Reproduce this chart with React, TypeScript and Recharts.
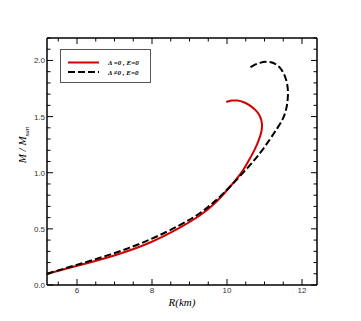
import React from "react";
import { LineChart, Line, XAxis, YAxis, Label } from "recharts";

// radius (km) and mass (M/Msun)
const rDelta0 = [5.2, 6, 7, 7.95, 8.8, 9.3, 9.7, 10.07, 10.4, 10.6, 10.75, 10.86, 10.92, 10.94, 10.92, 10.86, 10.76, 10.62, 10.45, 10.28, 10.12, 9.98];
const mDelta0 = [0.1, 0.17, 0.26, 0.37, 0.52, 0.62, 0.73, 0.87, 1.0, 1.12, 1.21, 1.3, 1.36, 1.42, 1.47, 1.52, 1.56, 1.6, 1.63, 1.645, 1.645, 1.63];

const rDeltaN = [5.2, 6, 7, 7.95, 8.8, 9.3, 9.7, 10.07, 10.6, 10.9, 11.13, 11.35, 11.5, 11.58, 11.62, 11.63, 11.61, 11.55, 11.46, 11.34, 11.2, 11.04, 10.88, 10.72, 10.58];
const mDeltaN = [0.1, 0.18, 0.28, 0.4, 0.54, 0.64, 0.75, 0.87, 1.06, 1.18, 1.29, 1.4, 1.48, 1.56, 1.64, 1.72, 1.79, 1.86, 1.92, 1.96, 1.985, 1.99, 1.98, 1.96, 1.93];

const xTicks = [5.5, 6, 6.5, 7, 7.5, 8, 8.5, 9, 9.5, 10, 10.5, 11, 11.5, 12];
const xMajor = [6, 8, 10, 12];
const yTicks = [0, 0.1, 0.2, 0.3, 0.4, 0.5, 0.6, 0.7, 0.8, 0.9, 1.0, 1.1, 1.2, 1.3, 1.4, 1.5, 1.6, 1.7, 1.8, 1.9, 2.0, 2.1, 2.2];
const yMajor = [0, 0.5, 1.0, 1.5, 2.0];

const delta0 = rDelta0.map((r, i) => ({ r, m: mDelta0[i] }));
const deltaN = rDeltaN.map((r, i) => ({ r, m: mDeltaN[i] }));

const isMajor = (v: number, list: number[]) => list.some((t) => Math.abs(t - v) < 1e-6);
const tickFont = "'Liberation Sans', Arial, sans-serif";
const serif = "'Liberation Serif', 'Times New Roman', serif";

const BottomTick = (p: any) => {
  const major = isMajor(p.payload.value, xMajor);
  return (
    <g>
      <line x1={p.x} x2={p.x} y1={p.y} y2={p.y - (major ? 6 : 3.5)} stroke="#000" />
      {major && (
        <text x={p.x} y={p.y + 8} textAnchor="middle" fontSize={8} fontFamily={tickFont} fill="#333">
          {p.payload.value}
        </text>
      )}
    </g>
  );
};

const TopTick = (p: any) => {
  const major = isMajor(p.payload.value, xMajor);
  return <line x1={p.x} x2={p.x} y1={p.y} y2={p.y + (major ? 6 : 3.5)} stroke="#000" />;
};

const LeftTick = (p: any) => {
  const major = isMajor(p.payload.value, yMajor);
  return (
    <g>
      <line x1={p.x} x2={p.x + (major ? 6 : 3.5)} y1={p.y} y2={p.y} stroke="#000" />
      {major && (
        <text x={p.x - 2} y={p.y + 3} textAnchor="end" fontSize={8} fontFamily={tickFont} fill="#333">
          {p.payload.value.toFixed(1)}
        </text>
      )}
    </g>
  );
};

const RightTick = (p: any) => {
  const major = isMajor(p.payload.value, yMajor);
  return <line x1={p.x} x2={p.x - (major ? 6 : 3.5)} y1={p.y} y2={p.y} stroke="#000" />;
};

const legendLabels = ["\u0394 =0 , E=0", "\u0394 \u22600 , E=0"];

const LegendBox = () => (
  <svg width={91} height={34} style={{ display: "block" }}>
    <rect x={0.5} y={0.5} width={90} height={33} fill="#fff" stroke="#555" />
    <line x1={8} x2={39} y1={13.5} y2={13.5} stroke="#d10000" strokeWidth={2} />
    <line x1={8} x2={39} y1={23} y2={23} stroke="#000" strokeWidth={2} strokeDasharray="7 3" />
    {legendLabels.map((t, i) => (
      <text key={t} x={48} y={16 + i * 9.5} fontSize={7} fontFamily={serif} fontStyle="italic" fontWeight="bold">
        {t}
      </text>
    ))}
  </svg>
);

export default function App() {
  return (
    <div style={{ position: "absolute", left: 0, top: 0, width: 361, height: 321 }}>
      <LineChart width={361} height={321} margin={{ top: 37, right: 43, bottom: 0, left: 0 }}>
        <XAxis
          xAxisId={0}
          dataKey="r"
          type="number"
          domain={[5.2, 12.4]}
          ticks={xTicks}
          interval={0}
          allowDataOverflow
          height={36}
          tickSize={0}
          tickMargin={0}
          tickLine={false}
          tick={<BottomTick />}
          axisLine={{ stroke: "#000", strokeWidth: 1.5 }}
        >
          <Label
            content={() => (
              <text x={182} y={306} textAnchor="middle" fontSize={11} fontFamily={serif} fontStyle="italic">
                R(km)
              </text>
            )}
          />
        </XAxis>
        <XAxis
          xAxisId="top"
          orientation="top"
          dataKey="r"
          type="number"
          domain={[5.2, 12.4]}
          ticks={xTicks}
          interval={0}
          allowDataOverflow
          height={1}
          tickSize={0}
          tickMargin={0}
          tickLine={false}
          tick={<TopTick />}
          axisLine={{ stroke: "#000", strokeWidth: 1.5 }}
        />
        <YAxis
          yAxisId={0}
          type="number"
          domain={[0, 2.2]}
          ticks={yTicks}
          interval={0}
          allowDataOverflow
          width={47}
          tickSize={0}
          tickMargin={0}
          tickLine={false}
          tick={<LeftTick />}
          axisLine={{ stroke: "#000", strokeWidth: 1.5 }}
        >
          <Label
            content={() => (
              <text
                x={0}
                y={0}
                transform="translate(26,145) rotate(-90)"
                textAnchor="middle"
                fontSize={11}
                fontFamily={serif}
                fontStyle="italic"
              >
                M / M
                <tspan fontSize={7} dy={3}>sun</tspan>
              </text>
            )}
          />
        </YAxis>
        <YAxis
          yAxisId="right"
          orientation="right"
          type="number"
          domain={[0, 2.2]}
          ticks={yTicks}
          interval={0}
          allowDataOverflow
          width={1}
          tickSize={0}
          tickMargin={0}
          tickLine={false}
          tick={<RightTick />}
          axisLine={{ stroke: "#000", strokeWidth: 1.5 }}
        />
        <Line
          data={delta0}
          dataKey="m"
          name={legendLabels[0]}
          type="basis"
          stroke="#d10000"
          strokeWidth={2}
          dot={false}
          isAnimationActive={false}
        />
        <Line
          data={deltaN}
          dataKey="m"
          name={legendLabels[1]}
          type="basis"
          stroke="#000"
          strokeWidth={2}
          strokeDasharray="7 3"
          dot={false}
          isAnimationActive={false}
        />
      </LineChart>
      <div style={{ position: "absolute", left: 60, top: 49 }}>
        <LegendBox />
      </div>
    </div>
  );
}
